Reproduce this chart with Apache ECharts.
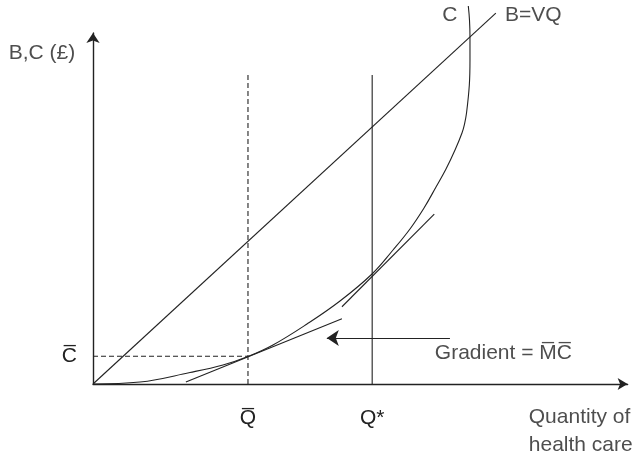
<!DOCTYPE html>
<html>
<head>
<meta charset="utf-8">
<script src="https://cdn.jsdelivr.net/npm/echarts@6/dist/echarts.min.js"></script>
<style>html,body{margin:0;padding:0;background:#fff}#c{width:633px;height:455px}</style>
</head>
<body>
<div id="c"></div>
<script>
// Units: quantity 0..99, money 0..98.6
const costCurve = [[0,0],[8.7,0.56],[17.96,3.23],[24.07,5.34],[28.7,7.72],[33.33,10.96],[39.63,16.85],[45.74,23.31],[51.67,30.9],[55.56,37.64],[58.7,43.54],[61.3,49.44],[63.52,55.34],[65.37,60.39],[67.04,65.73],[68.33,70.51],[68.8,73.03],[69.17,76.12],[69.69,83.99],[69.81,91.01],[69.81,97.47],[69.72,102.25],[69.5,106.18]];
const benefitLine = [[0,0],[74.6,104.2]];
const qBar = 28.7;
const qStar = 51.7;
const cBar = 7.8;
const qBarTop = 87.1;
const qStarTop = 86.8;
const tangentAtQBar = [[17.2,0.56],[46.1,18.3]];
const tangentAtQStar = [[46.1,21.7],[63.2,47.7]];
const gradientArrow = [[66.1,12.9],[43.3,12.9]];
const xTickLabels = ['Q\u0305','Q*'];
const yTickLabels = ['C\u0305'];
const textLabels = [
  {name:'B,C (£)', value:[-3.3,93.0], pos:'left'},
  {name:'C', value:[66.1,103.7], pos:'inside'},
  {name:'B=VQ', value:[76.3,103.7], pos:'right'},
  {name:'Gradient = M\u0305C\u0305', value:[63.3,8.6], pos:'right'},
  {name:'Quantity of\nhealth care', value:[80.7,-13.2], pos:'right'}
];

const ink = '#222';
const font = "'Liberation Sans', Arial, Helvetica, sans-serif";
const chart = echarts.init(document.getElementById('c'));
const lineSeries = (data, type) => ({
  type:'line', data, showSymbol:false, symbol:'none', clip:false, silent:true,
  lineStyle:{color:ink, width:1.1, type: type || 'solid'}, z:3
});
const cSeries = lineSeries(costCurve); cSeries.smooth = 0.4;
chart.setOption({
  animation:false,
  backgroundColor:'#fff',
  grid:{left:93, right:5.4, top:33, bottom:71, containLabel:false},
  xAxis:{type:'value', min:0, max:99, splitLine:{show:false},
    axisLine:{show:true, lineStyle:{color:ink, width:1.4}, symbol:['none','arrow'], symbolSize:[9,10]},
    axisTick:{show:false},
    axisLabel:{customValues:[qBar,qStar], formatter:v => v===qBar?xTickLabels[0]:xTickLabels[1], margin:24, fontSize:21, fontFamily:font, color:ink}
  },
  yAxis:{type:'value', min:0, max:98.6, splitLine:{show:false},
    axisLine:{show:true, lineStyle:{color:ink, width:1.4}, symbol:['none','arrow'], symbolSize:[10,10]},
    axisTick:{show:false},
    axisLabel:{customValues:[cBar], formatter:() => yTickLabels[0], margin:16, fontSize:21, fontFamily:font, color:ink}
  },
  series:[
    lineSeries(benefitLine),
    cSeries,
    lineSeries(tangentAtQBar),
    lineSeries(tangentAtQStar),
    lineSeries([[qBar,0],[qBar,qBarTop]], [5,3]),
    lineSeries([[0,cBar],[qBar,cBar]], [5,3]),
    lineSeries([[qStar,0],[qStar,qStarTop]]),
    {type:'lines', coordinateSystem:'cartesian2d', silent:true,
      data:[{coords:gradientArrow}], symbol:['none','arrow'], symbolSize:[10,12],
      lineStyle:{color:ink, width:1.1, opacity:1}, z:4},
    {type:'scatter', symbolSize:0, clip:false, silent:true,
      data:textLabels.map(t => ({name:t.name, value:t.value,
        label:{show:true, position:t.pos, distance:0, formatter:'{b}', fontSize:21, fontFamily:font, color:ink, lineHeight:28, align: t.pos==='left'?'right':(t.pos==='right'?'left':'center'), verticalAlign:'middle'}}))
    }
  ]
});
</script>
</body>
</html>
